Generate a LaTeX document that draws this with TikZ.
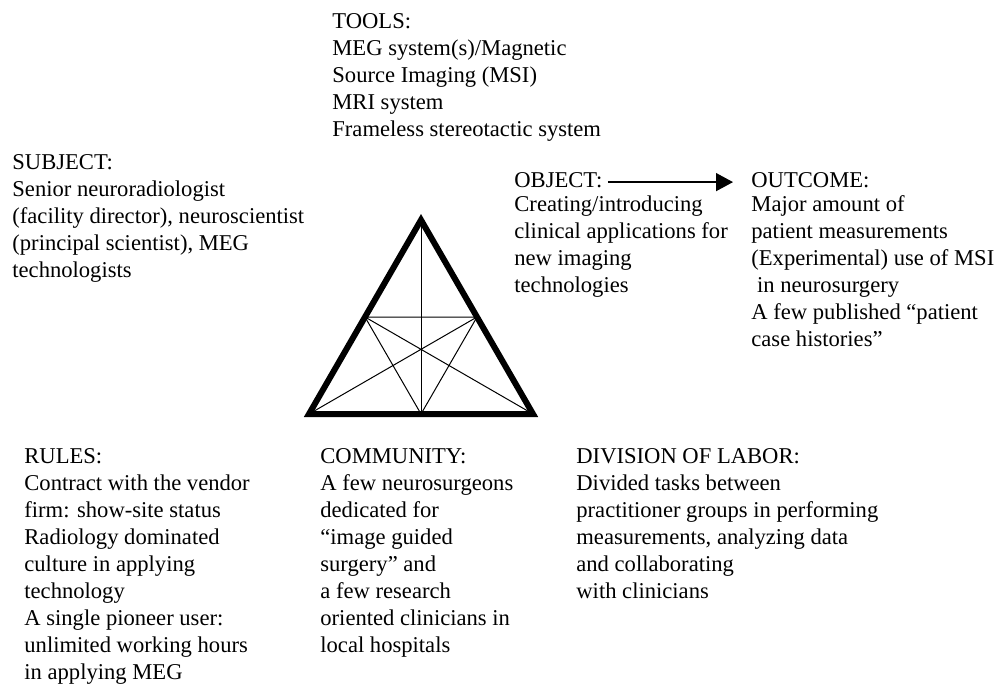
\documentclass[tikz,border=0pt]{standalone}
\usepackage{fontspec}
\setmainfont{Liberation Serif}
\usetikzlibrary{arrows.meta,calc}

\begin{document}
\begin{tikzpicture}[x=0.5pt,y=-0.5pt,
  txt/.style={anchor=north west,yshift=9.45pt,inner sep=0pt,align=left,
    font=\fontsize{11.3pt}{13.5pt}\selectfont,execute at begin node=\strut},
  side/.style={line width=3pt},
  inner/.style={line width=0.5pt}]
  \useasboundingbox (0,0) rectangle (999,691);
  % triangle corners and side midpoints
  \coordinate (top) at (421,220);
  \coordinate (bl) at (309,414);
  \coordinate (br) at (533,414);
  \coordinate (ml) at ($(top)!0.5!(bl)$);
  \coordinate (mr) at ($(top)!0.5!(br)$);
  \coordinate (mb) at ($(bl)!0.5!(br)$);
  \draw[inner] (top) -- (mb);                  %vertical median
  \draw[inner] (ml) -- (mr) -- (mb) -- cycle;  %inner triangle
  \draw[inner] (ml) -- (br) (mr) -- (bl);      %other medians
  \draw[side] (top) -- (bl) -- (br) -- cycle;
  % texts, placed at the baseline of their first line
  \node[txt] (tools) at (332,32) {TOOLS:\\MEG system(s)/Magnetic\\Source Imaging (MSI)\\MRI system\\Frameless stereotactic system};
  \node[txt] (subject) at (12,173) {SUBJECT:\\Senior neuroradiologist\\(facility director), neuroscientist\\(principal scientist), MEG\\technologists};
  \node[txt] (objhead) at (514,187) {OBJECT:};
  \node[txt] (object) at (514,214) {Creating/introducing\\clinical applications for\\new imaging\\technologies};
  \node[txt] (outhead) at (751,187) {OUTCOME:};
  \node[txt] (outcome) at (751,214) {Major amount of\\patient measurements\\(Experimental) use of MSI\\\hspace*{.25em}in neurosurgery\\A few published “patient\\case histories”};
  \node[txt] (rules) at (24,467) {RULES:\\Contract with the vendor\\firm: show-site status\\Radiology dominated\\culture in applying\\technology\\A single pioneer user:\\unlimited working hours\\in applying MEG};
  \node[txt] (community) at (320,467) {COMMUNITY:\\A few neurosurgeons\\dedicated for\\“image guided\\surgery” and\\a few research\\oriented clinicians in\\local hospitals};
  \node[txt] (division) at (576,467) {DIVISION OF LABOR:\\Divided tasks between\\practitioner groups in performing\\measurements, analyzing data\\and collaborating\\with clinicians};
  \draw[line width=0.7pt,-{Triangle[length=8.5pt,width=9pt]}]
    ([xshift=2.5pt,yshift=-7pt]objhead.north east) -- ([xshift=-9pt,yshift=-7pt]outhead.north west);
\end{tikzpicture}
\end{document}
